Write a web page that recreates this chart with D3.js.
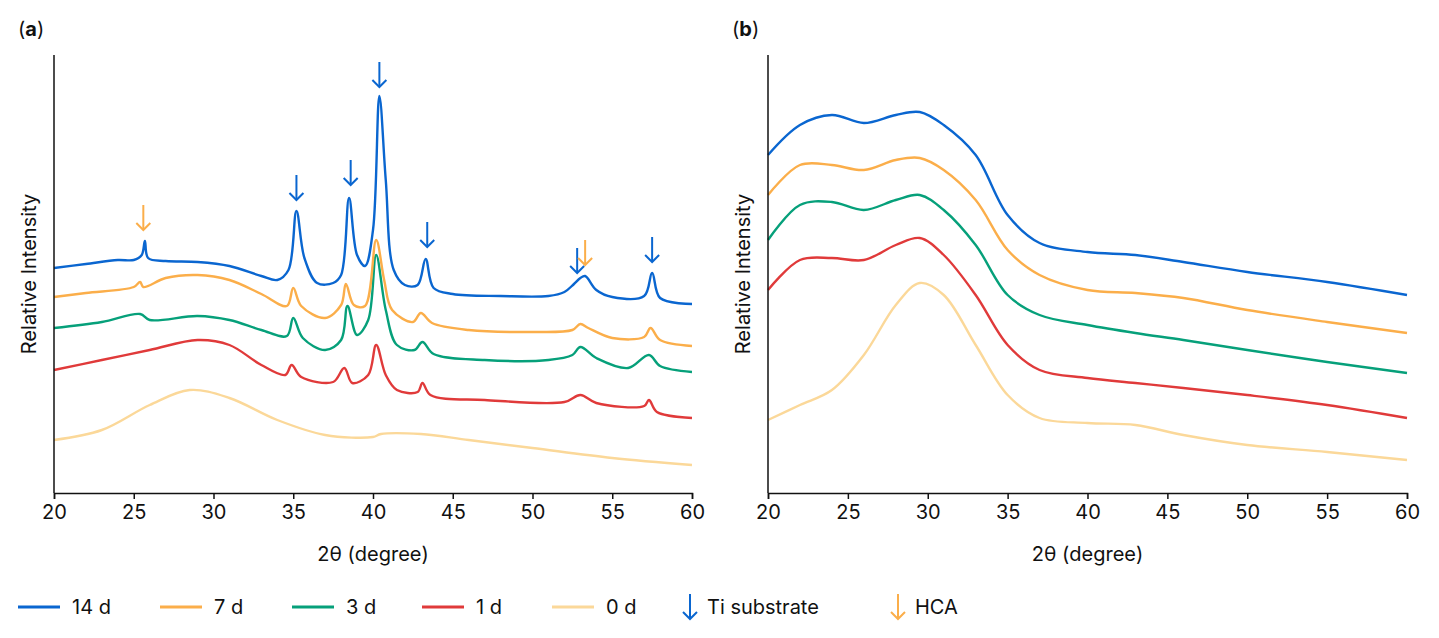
<!DOCTYPE html>
<html><head><meta charset="utf-8">
<script src="https://cdn.jsdelivr.net/npm/d3@7"></script>
<style>body{margin:0;background:#fff;font-family:Inter,"Noto Sans",sans-serif}</style>
</head><body>
<script>
// intensities in arbitrary units (0 = bottom of axis, 438 = top)
var series = ["14 d", "7 d", "3 d", "1 d", "0 d"];
var colors = ["#0a66d0", "#fbae4a", "#06a07a", "#e03a3a", "#fbd899"];

var aX = {
  "14 d": [20,22,24,25,25.5,25.7,25.9,27,29,31,33,34,34.7,35.2,35.7,36.5,37.5,38,38.5,39,39.5,40,40.4,40.8,41.3,42,42.8,43.3,43.8,45,48,51,52,52.6,53,53.3,54,55,57,57.5,58,60],
  "7 d": [20,22,25,25.4,25.6,27,29,31,33,34.6,35,35.5,37,38,38.3,38.8,39.5,40.2,40.7,41.2,42.5,43,43.7,46,50,52.5,53,53.5,55,57,57.4,58,60],
  "3 d": [20,23,25.4,26,29,31,33,34.6,35,35.6,37,38,38.4,39,39.7,40.2,40.8,41.5,42.6,43.1,43.8,47,51,52.5,53,54,56,57.3,58,60],
  "1 d": [20,23,26,29,31,33,34.5,34.9,35.5,37.5,38.2,38.7,39.7,40.2,40.8,41.5,42.8,43.1,43.6,47,52,53,54,57,57.3,57.8,60],
  "0 d": [20,23,26,28.5,31,34,37,40,40.5,43,46,50,55,60]
};
var aY = {
  "14 d": [268,264,260,260,255,241,258,261,262,266,276,280,270,211,258,283,283,275,198,255,266,230,96,180,270,285,285,259,288,294,296,296,292,284,278,276,290,297,296,273,298,304],
  "7 d": [297,293,287,282,287,278,275,280,294,306,288,306,318,305,284,305,306,240,280,310,322,313,323,330,332,330,324,328,338,337,328,340,346],
  "3 d": [328,322,314,320,316,320,330,336,318,338,350,340,306,335,320,255,310,345,350,342,354,360,360,355,347,358,368,355,366,372],
  "1 d": [370,360,350,340,345,365,375,365,377,382,368,383,375,345,375,390,392,383,395,400,402,395,403,406,400,412,418],
  "0 d": [440,430,405,390,398,420,435,437,434,434,440,448,458,465]
};
var bXs = [20,22,24,26,28,29.5,31,33,35,37,40,43,46,50,55,60];
var bY = {
  "14 d": [155,125,115,123,115,112,125,155,215,243,252,255,262,272,282,295],
  "7 d": [195,165,165,170,160,158,170,200,250,275,290,293,298,310,322,333],
  "3 d": [240,205,202,210,200,195,210,245,295,315,325,333,340,350,362,373],
  "1 d": [290,260,258,260,245,238,255,295,345,370,378,383,388,395,405,418],
  "0 d": [420,405,390,355,305,283,295,345,395,418,423,425,435,445,452,460]
};
var tiPeaks = [[35.2,175],[38.6,160],[40.4,62],[43.4,222],[52.8,248],[57.5,237]];
var hcaPeaks = [[25.6,205],[53.3,240]];
var xTicks = [20,25,30,35,40,45,50,55,60];

var svg = d3.select("body").append("svg").attr("width",1439).attr("height",638);
var y = d3.scaleLinear().domain([0,438]).range([493,55]);
function yv(px){ return 493 - px; } // pixel-reading -> intensity

function panel(x0, x1, label, getX, getY){
  var x = d3.scaleLinear().domain([20,60]).range([x0,x1]);
  var g = svg.append("g");
  var line = d3.line().x(d=>x(d[0])).y(d=>y(yv(d[1]))).curve(d3.curveCatmullRom);
  series.slice().reverse().forEach(function(s){
    var i = series.indexOf(s);
    var xs = getX(s), ys = getY(s);
    g.append("path").attr("fill","none").attr("stroke",colors[i]).attr("stroke-width",2.4)
      .attr("d", line(xs.map((v,k)=>[v,ys[k]])));
  });
  var ax = g.append("g").attr("transform","translate(0,493)")
    .call(d3.axisBottom(x).tickValues(xTicks).tickSize(6).tickPadding(6));
  ax.select(".domain").attr("stroke","#111").attr("stroke-width",1.5);
  ax.selectAll("line").attr("stroke","#111").attr("stroke-width",1.5);
  ax.selectAll("text").attr("font-size",20).attr("fill","#111").attr("font-family","Inter,sans-serif");
  g.append("line").attr("x1",x0).attr("x2",x0).attr("y1",55).attr("y2",493).attr("stroke","#111").attr("stroke-width",1.5);
  g.append("text").attr("x",(x0+x1)/2).attr("y",561).attr("text-anchor","middle").attr("font-size",20).attr("fill","#111").text("2θ (degree)");
  g.append("text").attr("transform","translate("+(x0-18)+",274) rotate(-90)").attr("text-anchor","middle").attr("font-size",20).attr("fill","#111").text("Relative Intensity");
  var t = g.append("text").attr("x",x0-36).attr("y",36).attr("font-size",20).attr("fill","#111");
  t.append("tspan").text("(");
  t.append("tspan").attr("font-weight","bold").text(label);
  t.append("tspan").text(")");
  return x;
}

function arrow(g, cx, top, col){
  g.append("line").attr("x1",cx).attr("x2",cx).attr("y1",top).attr("y2",top+25).attr("stroke",col).attr("stroke-width",2);
  g.append("path").attr("d","M"+(cx-7)+","+(top+18)+" L"+cx+","+(top+25)+" L"+(cx+7)+","+(top+18))
    .attr("fill","none").attr("stroke",col).attr("stroke-width",2);
}

var xa = panel(54, 692, "a", s=>aX[s], s=>aY[s]);
panel(768, 1407, "b", s=>bXs, s=>bY[s]);
tiPeaks.forEach(p=>arrow(svg, xa(p[0]), p[1], colors[0]));
hcaPeaks.forEach(p=>arrow(svg, xa(p[0]), p[1], colors[1]));

// legend
var lg = svg.append("g");
var lx = [18,160,292,422,552];
series.forEach(function(s,i){
  lg.append("line").attr("x1",lx[i]).attr("x2",lx[i]+42).attr("y1",607).attr("y2",607).attr("stroke",colors[i]).attr("stroke-width",3);
  lg.append("text").attr("x",lx[i]+54).attr("y",614).attr("font-size",20).attr("fill","#111").text(s);
});
arrow(lg, 690, 594, colors[0]);
lg.append("text").attr("x",707).attr("y",614).attr("font-size",20).attr("fill","#111").text("Ti substrate");
arrow(lg, 898, 594, colors[1]);
lg.append("text").attr("x",915).attr("y",614).attr("font-size",20).attr("fill","#111").text("HCA");
</script>
</body></html>
